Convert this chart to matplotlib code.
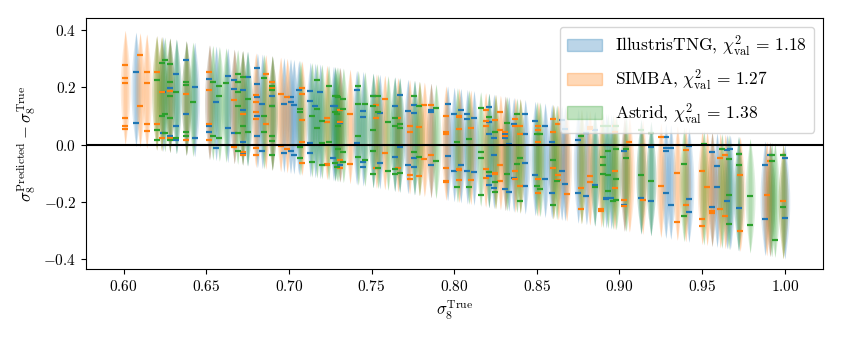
import numpy as np
import matplotlib
matplotlib.use("Agg")
import matplotlib.pyplot as plt
from matplotlib.patches import Patch

plt.rcParams.update({
    "font.family": "serif",
    "font.serif": ["cmr10"],
    "mathtext.fontset": "cm",
    "axes.formatter.use_mathtext": True,
    "font.size": 11,
})

# prior range of sigma8
prior_lo, prior_hi = 0.6, 1.0

# ---------------- IllustrisTNG ----------------
tng_x = [0.6075, 0.624, 0.628, 0.632, 0.638, 0.643, 0.652, 0.656, 0.663, 0.667,
         0.672, 0.675, 0.681, 0.684, 0.690, 0.697, 0.701, 0.703, 0.706, 0.713,
         0.716, 0.719, 0.727, 0.728, 0.731, 0.741, 0.745, 0.751, 0.755, 0.764,
         0.767, 0.772, 0.776, 0.786, 0.796, 0.800, 0.804, 0.808, 0.812, 0.821,
         0.824, 0.831, 0.833, 0.836, 0.843, 0.849, 0.855, 0.859, 0.865, 0.867,
         0.875, 0.880, 0.885, 0.892, 0.895, 0.903, 0.913, 0.919, 0.928, 0.931,
         0.942, 0.956, 0.959, 0.965, 0.967, 0.972, 0.988, 0.991, 1.000]
tng_dy = [[0.253, 0.075], [0.183, 0.040], [0.197, 0.031], [0.245, 0.065, 0.016],
          [0.294, 0.107], [0.200, 0.024], [0.230, 0.066, 0.045], [0.148, -0.012],
          [0.241, 0.058], [0.227, 0.195, 0.040], [0.191, 0.119, 0.010, -0.030],
          [0.235], [0.268, 0.211, 0.166, 0.098, 0.028], [0.140, -0.024],
          [0.220, 0.169, 0.134], [0.140, -0.030], [0.166, 0.150, -0.024],
          [0.139, -0.036], [0.192], [0.188, 0.152, 0.006, -0.030], [0.136],
          [0.185], [0.134, -0.048], [0.136], [0.076, -0.073], [0.191, 0.005],
          [0.117, 0.096, -0.062, -0.079], [0.169], [0.111, -0.064],
          [0.136, -0.045], [0.174, -0.007], [0.117, -0.070],
          [0.139, 0.111, -0.048, -0.078], [0.121, 0.115, -0.071],
          [0.140, -0.041], [0.105, -0.091], [0.119, -0.071],
          [0.107, 0.090, -0.094], [0.093, -0.097],
          [0.131, 0.077, 0.038, -0.111, -0.142], [0.022, -0.038, -0.153],
          [0.037, 0.022, -0.157], [0.003, -0.167], [0.071, -0.118],
          [0.106, 0.038, -0.065, -0.146], [0.082, -0.105], [0.065, -0.121],
          [0.010, -0.171], [0.084, -0.092], [0.055, -0.139], [0.017, -0.169],
          [0.041, -0.181], [0.051, -0.143], [-0.001, -0.186, -0.192], [-0.188],
          [-0.024, -0.211], [-0.186], [-0.009, -0.196],
          [0.026, -0.013, -0.022, -0.169], [-0.013, -0.210],
          [-0.006, -0.192, -0.237], [-0.027, -0.219], [-0.076, -0.149],
          [-0.019, -0.199], [-0.016], [-0.033, -0.223], [-0.073, -0.260],
          [-0.035], [-0.047, -0.258]]

# ---------------- SIMBA ----------------
simba_x = [0.601, 0.610, 0.614, 0.620, 0.623, 0.628, 0.638, 0.652, 0.667, 0.672,
           0.680, 0.686, 0.690, 0.695, 0.699, 0.708, 0.723, 0.731, 0.737, 0.753,
           0.758, 0.766, 0.773, 0.779, 0.782, 0.786, 0.795, 0.803, 0.810, 0.819,
           0.825, 0.828, 0.831, 0.837, 0.840, 0.851, 0.860, 0.863, 0.868, 0.877,
           0.882, 0.889, 0.897, 0.903, 0.906, 0.914, 0.925, 0.935, 0.940, 0.950,
           0.953, 0.956, 0.961, 0.964, 0.973, 0.989, 0.991, 0.999]
simba_dy = [[0.279, 0.232, 0.216, 0.094, 0.063, 0.054], [0.311, 0.133],
            [0.253, 0.216, 0.071, 0.047], [0.253, 0.070], [0.183, 0.024],
            [0.186, 0.171, 0.023], [0.178, 0.015], [0.253, 0.189, 0.072, 0.017],
            [0.157, -0.009], [0.107, -0.027, -0.036],
            [0.174, 0.150, 0.115, 0.090, -0.012, -0.036], [0.246, 0.070],
            [0.218, 0.197], [0.177, -0.006], [0.166, -0.017],
            [0.199, 0.177, 0.086, 0.010, -0.065], [0.094, 0.080, -0.068, -0.073],
            [0.122, 0.080, -0.054, -0.082], [0.105, -0.069],
            [0.139, 0.092, -0.082], [0.159, -0.030], [0.094, -0.083],
            [0.064, 0.043, -0.106, -0.120], [0.061, -0.111], [0.139, -0.050],
            [0.139, -0.038], [0.099, 0.043, 0.035, -0.082, -0.128, -0.132],
            [0.101, 0.096, 0.055, -0.085, -0.089, -0.124], [0.056, -0.125],
            [0.121, 0.082, 0.066, -0.087, -0.118], [0.084, -0.100, -0.103],
            [0.113, 0.052, -0.071, -0.129], [0.043, 0.029],
            [0.090, 0.066, -0.093, -0.119], [0.066, 0.035, -0.146],
            [0.066, 0.052, 0.010, -0.122, -0.169], [0.090, 0.045, -0.082],
            [0.070, -0.108, -0.125], [-0.172], [-0.153, -0.227],
            [0.061, 0.055, -0.111, -0.132], [-0.225, -0.233],
            [0.064, 0.043, -0.094, -0.151], [-0.193, -0.216], [0.008],
            [-0.001, -0.193], [0.026, -0.145], [-0.099, -0.272],
            [-0.019, -0.211], [-0.093, -0.262, -0.286], [-0.150],
            [-0.232, -0.240], [-0.048, -0.225], [-0.036, -0.251],
            [-0.108, -0.301], [-0.176], [-0.056], [-0.036, -0.196]]

# ---------------- Astrid ----------------
astrid_x = [0.620, 0.623, 0.625, 0.628, 0.632, 0.638, 0.642, 0.654, 0.658, 0.662,
            0.669, 0.672, 0.675, 0.685, 0.690, 0.707, 0.714, 0.717, 0.720, 0.724,
            0.728, 0.729, 0.730, 0.733, 0.742, 0.746, 0.751, 0.754, 0.760, 0.764,
            0.767, 0.776, 0.779, 0.789, 0.802, 0.809, 0.816, 0.821, 0.825, 0.832,
            0.838, 0.840, 0.850, 0.852, 0.860, 0.862, 0.877, 0.885, 0.890, 0.893,
            0.896, 0.898, 0.904, 0.913, 0.919, 0.939, 0.951, 0.962, 0.966, 0.972,
            0.979, 0.992, 0.994, 0.999]
astrid_dy = [[0.227, 0.051, 0.014], [0.286, 0.101], [0.295, 0.108, 0.041],
             [0.282, 0.220, 0.169, 0.094, 0.014], [0.183, 0.022],
             [0.220, 0.209, 0.043, 0.031], [0.147], [0.220, 0.031],
             [0.206, 0.169, 0.022], [0.214],
             [0.247, 0.218, 0.185, 0.133, 0.040, -0.022], [0.235, 0.063],
             [0.160, 0.045], [0.232, 0.101, 0.045],
             [0.206, 0.190, 0.136, 0.031, 0.012, -0.036],
             [0.125, 0.113, -0.009, -0.048], [0.101, -0.062],
             [0.227, 0.125, 0.058], [0.082, 0.005, -0.073], [0.206, 0.008],
             [0.171, 0.115, -0.064], [0.171, 0.107, -0.079],
             [0.166, 0.063, -0.017], [0.160, 0.125, -0.027, -0.062],
             [0.203, 0.142, 0.029, -0.045], [0.140, -0.054],
             [0.168, 0.133, 0.049, -0.021, -0.104], [0.168, 0.115, -0.083],
             [0.080, -0.094], [0.092, 0.064, -0.085, -0.103],
             [0.073, 0.057, -0.100], [0.171, -0.027], [0.136, -0.044],
             [0.127, -0.058], [0.010, -0.150], [0.020, -0.148],
             [0.126, -0.027, -0.048, -0.175], [0.096, -0.097],
             [0.045, -0.132, -0.167], [0.076, -0.104], [0.105, -0.069],
             [-0.047, -0.197], [0.037, -0.146], [0.037, -0.155],
             [-0.054, -0.212], [-0.128], [0.028], [-0.147],
             [0.066, -0.042, -0.073, -0.103], [0.063, -0.021, -0.107, -0.161],
             [-0.196], [0.063, -0.017, -0.120, -0.193], [-0.015, -0.047],
             [0.049, -0.108], [0.040, -0.126], [-0.068, -0.251], [0.002],
             [-0.015], [-0.050, -0.178, -0.277], [-0.033, -0.073],
             [-0.181, -0.283], [-0.038, -0.059], [-0.332], [-0.038, -0.219]]

labels = [r"IllustrisTNG, $\chi^2_{\rm val}\,=\,1.18$",
          r"SIMBA, $\chi^2_{\rm val}\,=\,1.27$",
          r"Astrid, $\chi^2_{\rm val}\,=\,1.38$"]
colors = ["tab:blue", "tab:orange", "tab:green"]
series = [(tng_x, tng_dy), (simba_x, simba_dy), (astrid_x, astrid_dy)]

fig = plt.figure(figsize=(8.43, 3.37), dpi=100)
ax = fig.add_axes([86 / 843, 1 - 269 / 337, (823 - 86) / 843, (269 - 18) / 337])

half_w = 0.0030
t = np.linspace(0, 1, 41)
for (xs, dys), c in zip(series, colors):
    for x in xs:
        yy = (prior_lo - x) + t * (prior_hi - prior_lo)
        prof = np.sin(np.pi * t) ** 0.9
        for frac, a in [(1.0, 0.15), (0.65, 0.15), (0.35, 0.12)]:
            w = half_w * frac * prof
            ax.fill_betweenx(yy, x - w, x + w, color=c, alpha=a, lw=0)

for (xs, dys), c in zip(series, colors):
    px = [x for x, d in zip(xs, dys) for _ in d]
    py = [v for d in dys for v in d]
    ax.plot(px, py, ls="none", marker="_", color=c, markersize=4, mew=1.6)

ax.axhline(0, color="black", lw=1.5)

ax.set_xlim(0.5773, 1.0231)
ax.set_ylim(-0.435, 0.442)
ax.set_xticks([0.60, 0.65, 0.70, 0.75, 0.80, 0.85, 0.90, 0.95, 1.00])
ax.set_yticks([-0.4, -0.2, 0.0, 0.2, 0.4])
ax.xaxis.set_major_formatter(matplotlib.ticker.FormatStrFormatter(r"$%.2f$"))
ax.yaxis.set_major_formatter(matplotlib.ticker.FuncFormatter(
    lambda v, p: r"$%.1f$" % v if abs(v) > 1e-9 else r"$0.0$"))
ax.set_xlabel(r"$\sigma_8^{\rm True}$", fontsize=12)
ax.set_ylabel(r"$\sigma_8^{\rm Predicted} - \sigma_8^{\rm True}$", fontsize=12)

handles = [Patch(facecolor=c, edgecolor=c, alpha=0.3, lw=1.0) for c in colors]
ax.legend(handles, labels, loc="upper right", fontsize=12.5, framealpha=0.8)

fig.savefig("out.png", dpi=100)
